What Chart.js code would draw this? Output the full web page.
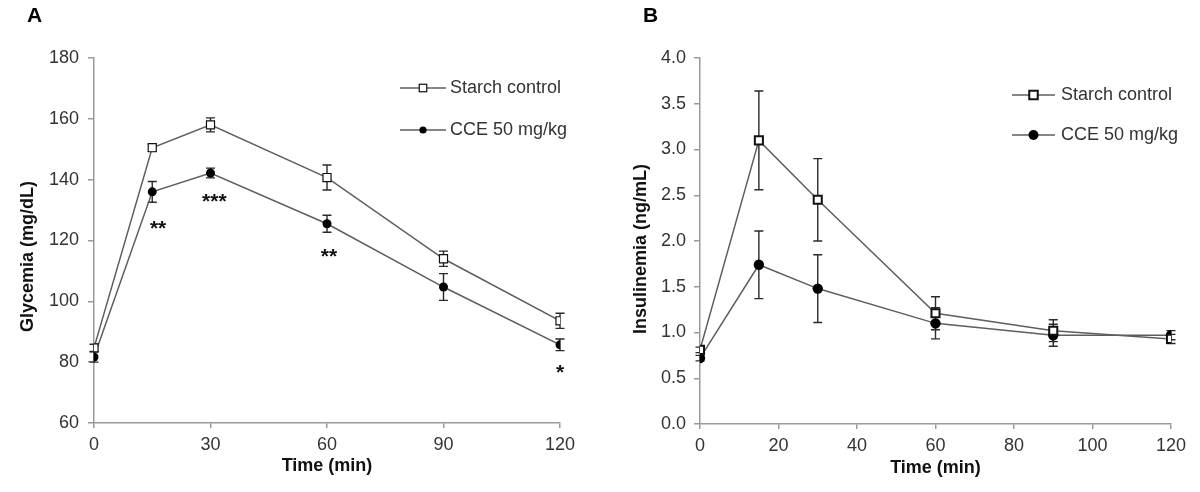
<!DOCTYPE html>
<html><head><meta charset="utf-8">
<script src="https://cdn.jsdelivr.net/npm/chart.js@4.4.0/dist/chart.umd.min.js"></script>
<style>
html,body{margin:0;padding:0;background:#fff;}
#wrap{position:relative;width:1200px;height:492px;overflow:hidden;}
canvas{position:absolute;top:0;}
</style>
</head><body>
<div id="wrap">
<canvas id="cA" width="600" height="492" style="left:0;width:600px;height:492px"></canvas>
<canvas id="cB" width="600" height="492" style="left:600px;width:600px;height:492px"></canvas>
</div>
<script>
// ---------- data ----------
const timePoints = [0, 15, 30, 60, 90, 120];
const seriesNames = ['Starch control', 'CCE 50 mg/kg'];

const glyStarch    = [84.7, 150.5, 158.0, 140.7, 114.0, 93.6];
const glyStarchErr = [1.2, 1.2, 2.3, 4.1, 2.5, 2.5];
const glyCCE       = [81.7, 136.0, 142.2, 125.5, 104.7, 85.7];
const glyCCEErr    = [1.7, 3.4, 1.6, 2.8, 4.4, 1.9];

const insStarch    = [0.81, 3.10, 2.45, 1.21, 1.02, 0.93];
const insStarchErr = [0.03, 0.54, 0.45, 0.18, 0.12, 0.05];
const insCCE       = [0.72, 1.74, 1.48, 1.10, 0.97, 0.97];
const insCCEErr    = [0.03, 0.37, 0.37, 0.17, 0.12, 0.05];

const glyTicks     = [60, 80, 100, 120, 140, 160, 180];
const glyTimeTicks = [0, 30, 60, 90, 120];
const insTicks     = [0, 0.5, 1.0, 1.5, 2.0, 2.5, 3.0, 3.5, 4.0];
const insTimeTicks = [0, 20, 40, 60, 80, 100, 120];

const sigTime  = [16.5, 31, 60.5, 120];
const sigLevel = [125, 134, 115.9, 77.7];
const sigLabel = ['**', '***', '**', '*'];

// ---------- styles ----------
const FONT = "'Liberation Sans', Arial, Helvetica, sans-serif";
const TEXT = '#333333';
const AXIS = '#9a9a9a';
const LINE = '#5e5e5e';

function pts(vals){ return timePoints.map((t,i)=>({x:t, y:vals[i]})); }

const errorBarPlugin = {
  id: 'errorBars',
  beforeDatasetsDraw(chart){
    const ctx = chart.ctx, xs = chart.scales.x, ys = chart.scales.y;
    const cap = chart.options.plugins.errorBars.cap;
    ctx.save();
    ctx.strokeStyle = '#2a2a2a';
    ctx.lineWidth = 1.4;
    chart.data.datasets.forEach(ds => {
      ds.data.forEach((p,i) => {
        const e = ds.errors[i];
        const x = xs.getPixelForValue(p.x);
        const y1 = ys.getPixelForValue(p.y + e), y2 = ys.getPixelForValue(p.y - e);
        ctx.beginPath();
        ctx.moveTo(x, y1); ctx.lineTo(x, y2);
        ctx.moveTo(x - cap, y1); ctx.lineTo(x + cap, y1);
        ctx.moveTo(x - cap, y2); ctx.lineTo(x + cap, y2);
        ctx.stroke();
      });
    });
    ctx.restore();
  }
};

const decorPlugin = {
  id: 'decor',
  afterDraw(chart){
    const o = chart.options.plugins.decor;
    const ctx = chart.ctx, ca = chart.chartArea;
    ctx.save();
    // panel letter
    ctx.fillStyle = '#000';
    ctx.font = 'bold 21px ' + FONT;
    ctx.textAlign = 'left'; ctx.textBaseline = 'middle';
    ctx.fillText(o.panel, o.panelX, 16);
    // y title
    ctx.save();
    ctx.translate(ca.left - o.yTitleDx, (ca.top + ca.bottom)/2 + o.yTitleDy);
    ctx.rotate(-Math.PI/2);
    ctx.font = 'bold 18px ' + FONT;
    ctx.fillStyle = '#111';
    ctx.textAlign = 'center'; ctx.textBaseline = 'middle';
    ctx.fillText(o.yTitle, 0, 0);
    ctx.restore();
    // legend
    const L = o.legend;
    chart.data.datasets.forEach((ds, k) => {
      const y = L.y[k];
      ctx.strokeStyle = LINE; ctx.lineWidth = 1.5;
      ctx.beginPath(); ctx.moveTo(L.x1, y); ctx.lineTo(L.x2, y); ctx.stroke();
      const mx = (L.x1 + L.x2)/2;
      if (ds.pointStyle === 'rect'){
        ctx.fillStyle = '#fff'; ctx.strokeStyle = '#111'; ctx.lineWidth = L.sqBorder;
        ctx.fillRect(mx - L.sq/2, y - L.sq/2, L.sq, L.sq);
        ctx.strokeRect(mx - L.sq/2, y - L.sq/2, L.sq, L.sq);
      } else {
        ctx.fillStyle = '#000';
        ctx.beginPath(); ctx.arc(mx, y, L.dot, 0, Math.PI*2); ctx.fill();
      }
      ctx.fillStyle = TEXT;
      ctx.font = '18px ' + FONT;
      ctx.textAlign = 'left'; ctx.textBaseline = 'middle';
      ctx.fillText(ds.label, L.tx, y);
    });
    // significance marks
    if (o.sig){
      const xs = chart.scales.x, ys = chart.scales.y;
      ctx.fillStyle = '#111';
      ctx.font = 'bold 21px ' + FONT;
      ctx.textAlign = 'center'; ctx.textBaseline = 'alphabetic';
      sigLabel.forEach((s, i) => {
        const m = ctx.measureText(s);
        const cy = ys.getPixelForValue(sigLevel[i]);
        const base = cy + (m.actualBoundingBoxAscent - m.actualBoundingBoxDescent)/2;
        ctx.fillText(s, xs.getPixelForValue(sigTime[i]), base);
      });
    }
    ctx.restore();
  }
};

function makeChart(id, cfg){
  const ds = [
    { label: seriesNames[0], data: pts(cfg.s1), errors: cfg.e1,
      borderColor: LINE, borderWidth: 1.5, pointStyle: 'rect',
      pointRadius: cfg.sqR, pointBorderWidth: cfg.sqB, pointBorderColor: '#111',
      pointBackgroundColor: '#fff', tension: 0, fill: false },
    { label: seriesNames[1], data: pts(cfg.s2), errors: cfg.e2,
      borderColor: LINE, borderWidth: 1.5, pointStyle: 'circle',
      pointRadius: cfg.dotR, pointBorderWidth: 0, pointBorderColor: '#000',
      pointBackgroundColor: '#000', tension: 0, fill: false }
  ];
  return new Chart(document.getElementById(id), {
    type: 'line',
    data: { datasets: ds },
    options: {
      responsive: false, animation: false, devicePixelRatio: 1,
      layout: { padding: { left: 0, right: cfg.padR, top: 58, bottom: 0 } },
      plugins: {
        legend: { display: false }, tooltip: { enabled: false },
        errorBars: { cap: cfg.cap },
        decor: cfg.decor
      },
      scales: {
        x: {
          type: 'linear', min: 0, max: 120,
          afterBuildTicks: s => { s.ticks = cfg.xTicks.map(v => ({ value: v })); },
          afterFit: s => { s.height = cfg.xH; },
          grid: { drawOnChartArea: false, drawTicks: true, tickLength: 5, color: AXIS, tickColor: AXIS, lineWidth: 1.5 },
          border: { display: true, color: AXIS, width: 1.5 },
          ticks: { color: TEXT, font: { family: FONT, size: 18 }, padding: 6, maxRotation: 0, autoSkip: false },
          title: { display: true, text: 'Time (min)', color: '#111', font: { family: FONT, size: 18, weight: 'bold' }, padding: { top: 0, bottom: cfg.xTitlePad } }
        },
        y: {
          type: 'linear', min: cfg.yMin, max: cfg.yMax,
          afterBuildTicks: s => { s.ticks = cfg.yTicks.map(v => ({ value: v })); },
          afterFit: s => { s.width = cfg.yW; },
          grid: { drawOnChartArea: false, drawTicks: true, tickLength: 6, color: AXIS, tickColor: AXIS, lineWidth: 1.5 },
          border: { display: true, color: AXIS, width: 1.5 },
          ticks: { color: TEXT, font: { family: FONT, size: 18 }, padding: cfg.yPad, autoSkip: false,
                   callback: cfg.yFmt }
        }
      }
    },
    plugins: [errorBarPlugin, decorPlugin]
  });
}

makeChart('cA', {
  s1: glyStarch, e1: glyStarchErr, s2: glyCCE, e2: glyCCEErr,
  sqR: 5.7, sqB: 1.2, dotR: 4.5, cap: 4.5,
  padR: 40, xH: 69, yW: 94, yPad: 9, xTitlePad: 15,
  yMin: 60, yMax: 180, yTicks: glyTicks, xTicks: glyTimeTicks,
  yFmt: v => String(v),
  decor: { panel: 'A', panelX: 27, yTitle: 'Glycemia (mg/dL)', yTitleDx: 66, yTitleDy: 16,
           legend: { x1: 400, x2: 446, tx: 450, y: [88, 130], sq: 7.5, sqBorder: 1.2, dot: 3.6 },
           sig: true }
});

makeChart('cB', {
  s1: insStarch, e1: insStarchErr, s2: insCCE, e2: insCCEErr,
  sqR: 5.7, sqB: 2, dotR: 5.2, cap: 4.5,
  padR: 29, xH: 68, yW: 100, yPad: 8, xTitlePad: 13,
  yMin: 0, yMax: 4, yTicks: insTicks, xTicks: insTimeTicks,
  yFmt: v => Number(v).toFixed(1),
  decor: { panel: 'B', panelX: 43, yTitle: 'Insulinemia (ng/mL)', yTitleDx: 59, yTitleDy: 8,
           legend: { x1: 412, x2: 455, tx: 461, y: [95, 135], sq: 8.5, sqBorder: 2, dot: 5 },
           sig: false }
});
</script>
</body></html>
